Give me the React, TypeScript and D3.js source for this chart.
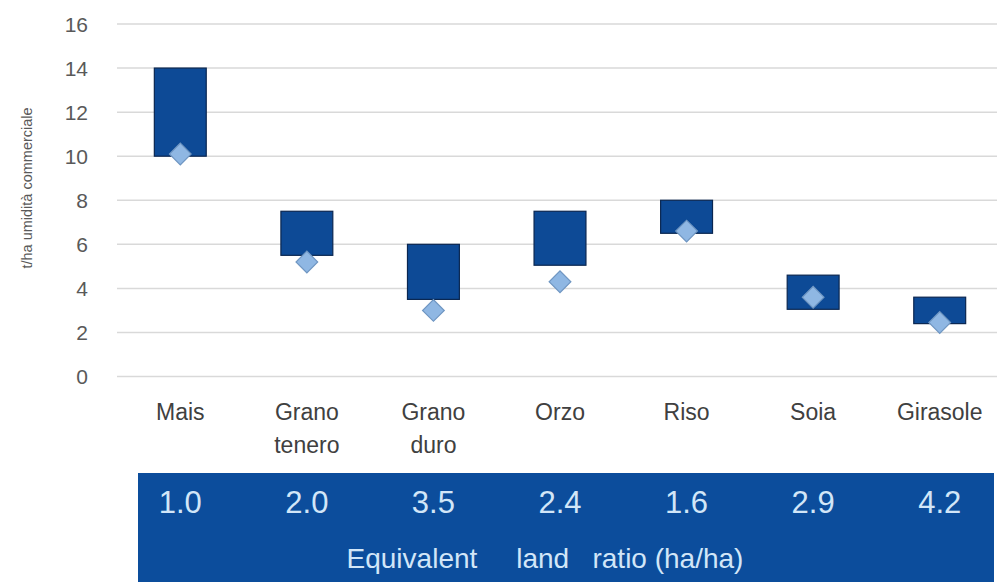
import { useEffect, useRef } from "react";
import * as d3 from "d3";

const categories = ["Mais", "Grano tenero", "Grano duro", "Orzo", "Riso", "Soia", "Girasole"];
const rangeLow = [10, 5.5, 3.5, 5.05, 6.5, 3.05, 2.4];
const rangeHigh = [14, 7.5, 6, 7.5, 8, 4.6, 3.6];
const markerValue = [10.1, 5.2, 3.0, 4.3, 6.6, 3.6, 2.45];
const landRatio = ["1.0", "2.0", "3.5", "2.4", "1.6", "2.9", "4.2"];
const yTicks = [0, 2, 4, 6, 8, 10, 12, 14, 16];

const FONT = "'Liberation Sans', Arial, sans-serif";

export default function App() {
  const ref = useRef<SVGSVGElement>(null);
  useEffect(() => {
    if (!ref.current) return;
    const svg = d3.select(ref.current);
    svg.selectAll("*").remove();
    const W = 997, H = 582;
    svg.attr("width", W).attr("height", H).attr("viewBox", `0 0 ${W} ${H}`);

    const x = d3.scaleBand(categories, [117, 1003]).paddingInner(0.59).paddingOuter(0.295);
    const y = d3.scaleLinear([0, 16], [376.5, 24]);

    // gridlines
    svg.append("g").selectAll("line").data(yTicks).enter().append("line")
      .attr("x1", 117).attr("x2", W)
      .attr("y1", (d) => y(d)).attr("y2", (d) => y(d))
      .attr("stroke", "#d9d9d9").attr("stroke-width", 1.5);

    // y tick labels
    svg.append("g").selectAll("text").data(yTicks).enter().append("text")
      .attr("x", 88).attr("y", (d) => y(d)).attr("dy", "0.36em")
      .attr("text-anchor", "end").attr("font-family", FONT).attr("font-size", 21)
      .attr("fill", "#595959").text((d) => d);

    // y axis title
    svg.append("text")
      .attr("transform", `translate(32,188) rotate(-90)`)
      .attr("text-anchor", "middle").attr("font-family", FONT).attr("font-size", 14.5)
      .attr("fill", "#595959").text("t/ha umidità commerciale");

    // floating range bars
    svg.append("g").selectAll("rect").data(categories).enter().append("rect")
      .attr("x", (d) => x(d)!)
      .attr("width", x.bandwidth())
      .attr("y", (_, i) => y(rangeHigh[i]))
      .attr("height", (_, i) => y(rangeLow[i]) - y(rangeHigh[i]))
      .attr("fill", "#0d4a96").attr("stroke", "#0a2650").attr("stroke-width", 1.2);

    // diamonds
    const sym = d3.symbol().type(d3.symbolSquare).size(235);
    svg.append("g").selectAll("path").data(categories).enter().append("path")
      .attr("d", sym()!)
      .attr("transform", (d, i) => `translate(${x(d)! + x.bandwidth() / 2},${y(markerValue[i])}) rotate(45)`)
      .attr("fill", "#8fb7e3").attr("stroke", "#6f96c2").attr("stroke-width", 1.2);

    // category labels
    const lab = svg.append("g").selectAll("text").data(categories).enter().append("text")
      .attr("x", (d) => x(d)! + x.bandwidth() / 2).attr("y", 420)
      .attr("text-anchor", "middle").attr("font-family", FONT).attr("font-size", 23)
      .attr("fill", "#404040");
    lab.each(function (d) {
      const words = d.split(" ");
      const t = d3.select(this);
      words.forEach((w, k) => {
        t.append("tspan").attr("x", x(d)! + x.bandwidth() / 2).attr("dy", k === 0 ? 0 : 33).text(w);
      });
    });

    // land ratio band
    svg.append("rect").attr("x", 138).attr("y", 473).attr("width", 994 - 138).attr("height", H - 473)
      .attr("fill", "#0c4d9c");
    svg.append("g").selectAll("text").data(categories).enter().append("text")
      .attr("x", (d) => x(d)! + x.bandwidth() / 2).attr("y", 513)
      .attr("text-anchor", "middle").attr("font-family", FONT).attr("font-size", 31)
      .attr("fill", "#d2e6f8").text((_, i) => landRatio[i]);
    svg.append("text")
      .attr("x", 545).attr("y", 568).attr("text-anchor", "middle")
      .attr("font-family", FONT).attr("font-size", 28).attr("fill", "#d2e6f8")
      .style("white-space", "pre")
      .text("Equivalent     land   ratio (ha/ha)");
  }, []);
  return (
    <div style={{ position: "fixed", left: 0, top: 0, background: "#fff" }}>
      <svg ref={ref} style={{ display: "block" }} />
    </div>
  );
}
